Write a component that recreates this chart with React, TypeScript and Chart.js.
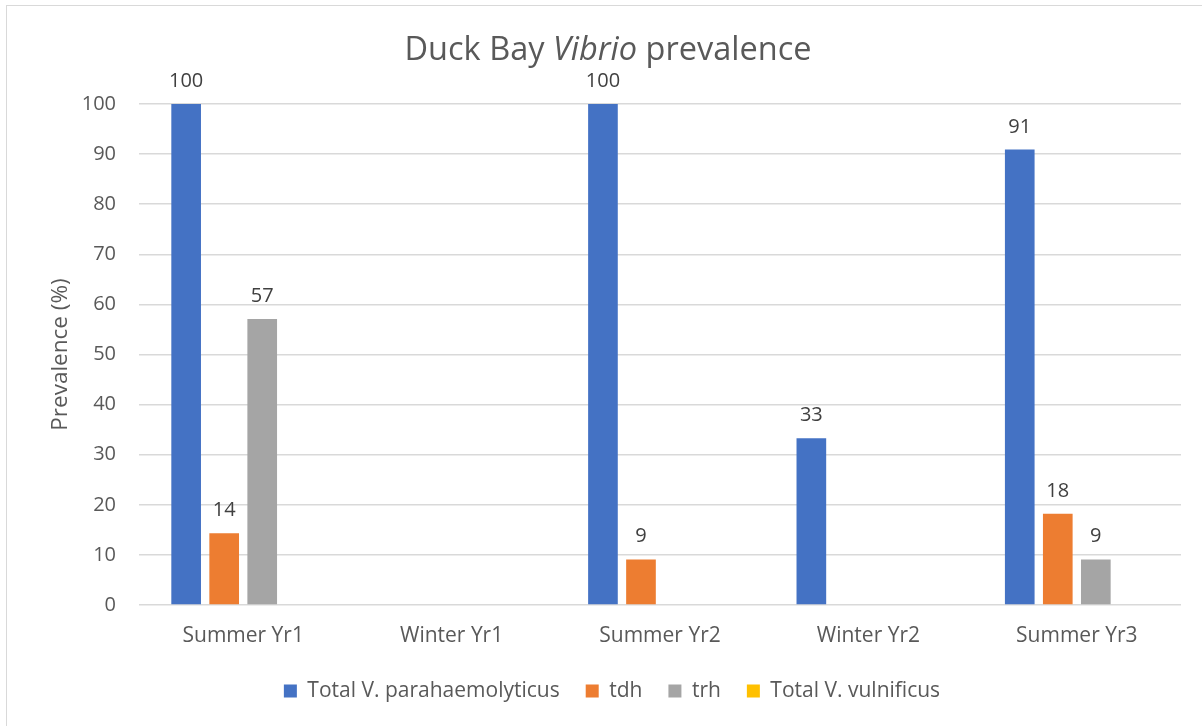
import React, { useEffect, useRef } from "react";
import { Chart, registerables } from "chart.js";

Chart.register(...registerables);

const categories = ["Summer Yr1", "Winter Yr1", "Summer Yr2", "Winter Yr2", "Summer Yr3"];
const totalVP: (number | null)[] = [100, null, 100, 33.3, 90.9];
const tdh: (number | null)[] = [14.3, null, 9.1, null, 18.2];
const trh: (number | null)[] = [57.1, null, null, null, 9.1];
const totalVV: (number | null)[] = [null, null, null, null, null];
const seriesNames = ["Total V. parahaemolyticus", "tdh", "trh", "Total V. vulnificus"];
const seriesColors = ["#4472C4", "#ED7D31", "#A5A5A5", "#FFC000"];
const yTicks = [0, 10, 20, 30, 40, 50, 60, 70, 80, 90, 100];

const FONT = "'Open Sans', 'Noto Sans', sans-serif";
const TEXT = "#595959";

const titlePlugin = {
  id: "mixedTitle",
  afterDraw(chart: any) {
    const ctx = chart.ctx;
    const parts = [
      { t: "Duck Bay ", s: "normal" },
      { t: "Vibrio", s: "italic" },
      { t: " prevalence", s: "normal" },
    ];
    const size = 32.5;
    ctx.save();
    ctx.fillStyle = TEXT;
    ctx.textBaseline = "alphabetic";
    ctx.textAlign = "left";
    let total = 0;
    const widths = parts.map((p) => {
      ctx.font = `${p.s} 400 ${size}px ${FONT}`;
      const w = ctx.measureText(p.t).width;
      total += w;
      return w;
    });
    let x = 608 - total / 2;
    parts.forEach((p, i) => {
      ctx.font = `${p.s} 400 ${size}px ${FONT}`;
      ctx.fillText(p.t, x, 60);
      x += widths[i];
    });
    ctx.restore();
  },
};

const labelPlugin = {
  id: "valueLabels",
  afterDatasetsDraw(chart: any) {
    const ctx = chart.ctx;
    ctx.save();
    ctx.font = `20px ${FONT}`;
    ctx.fillStyle = "#404040";
    ctx.textAlign = "center";
    ctx.textBaseline = "alphabetic";
    chart.data.datasets.forEach((ds: any, di: number) => {
      const meta = chart.getDatasetMeta(di);
      meta.data.forEach((el: any, i: number) => {
        const v = ds.data[i];
        if (v === null || v === undefined) return;
        ctx.fillText(String(Math.round(v)), el.x, el.y - 17);
      });
    });
    ctx.restore();
  },
};

export default function App() {
  const ref = useRef<HTMLCanvasElement>(null);
  useEffect(() => {
    document.body.style.margin = "0";
    document.body.style.overflow = "hidden";
    const seriesData = [totalVP, tdh, trh, totalVV];
    const chart = new Chart(ref.current!, {
      type: "bar",
      data: {
        labels: categories,
        datasets: seriesData.map((d, i) => ({
          label: seriesNames[i],
          data: d,
          backgroundColor: seriesColors[i],
          borderWidth: 0,
          categoryPercentage: 0.73,
          barPercentage: 0.78,
        })),
      },
      options: {
        responsive: false,
        animation: false,
        devicePixelRatio: 1,
        layout: { padding: { left: 43, right: 21, top: 104, bottom: 14.5 } },
        plugins: {
          title: { display: false },
          tooltip: { enabled: false },
          legend: {
            position: "bottom",
            labels: {
              font: { family: FONT, size: 21 },
              color: TEXT,
              boxWidth: 13,
              boxHeight: 13,
              padding: 26,
            },
          },
        },
        scales: {
          x: {
            grid: { display: false, drawTicks: false },
            border: { display: false },
            ticks: { font: { family: FONT, size: 21 }, color: TEXT, padding: 18 },
            afterFit(scale: any) {
              scale.height = 49.5;
            },
          },
          y: {
            min: 0,
            max: 100,
            afterBuildTicks(scale: any) {
              scale.ticks = yTicks.map((v) => ({ value: v }));
            },
            grid: { color: "#d9d9d9", lineWidth: 1.5, drawTicks: false },
            border: { display: false },
            ticks: { font: { family: FONT, size: 20 }, color: TEXT, padding: 23 },
            title: {
              display: true,
              text: "Prevalence (%)",
              font: { family: FONT, size: 22.5 },
              color: TEXT,
            },
            afterFit(scale: any) {
              scale.width = 96;
            },
          },
        },
      },
      plugins: [titlePlugin, labelPlugin],
    });
    return () => chart.destroy();
  }, []);
  return (
    <div style={{ position: "relative", width: 1202, height: 726, background: "#fff" }}>
      <canvas ref={ref} width={1202} height={726} style={{ position: "absolute", left: 0, top: 0 }} />
      <div
        style={{
          position: "absolute",
          left: 6,
          top: 5,
          width: 1196,
          height: 721,
          borderLeft: "1px solid #d9d9d9",
          borderTop: "1px solid #d9d9d9",
          boxSizing: "border-box",
          pointerEvents: "none",
        }}
      />
    </div>
  );
}
